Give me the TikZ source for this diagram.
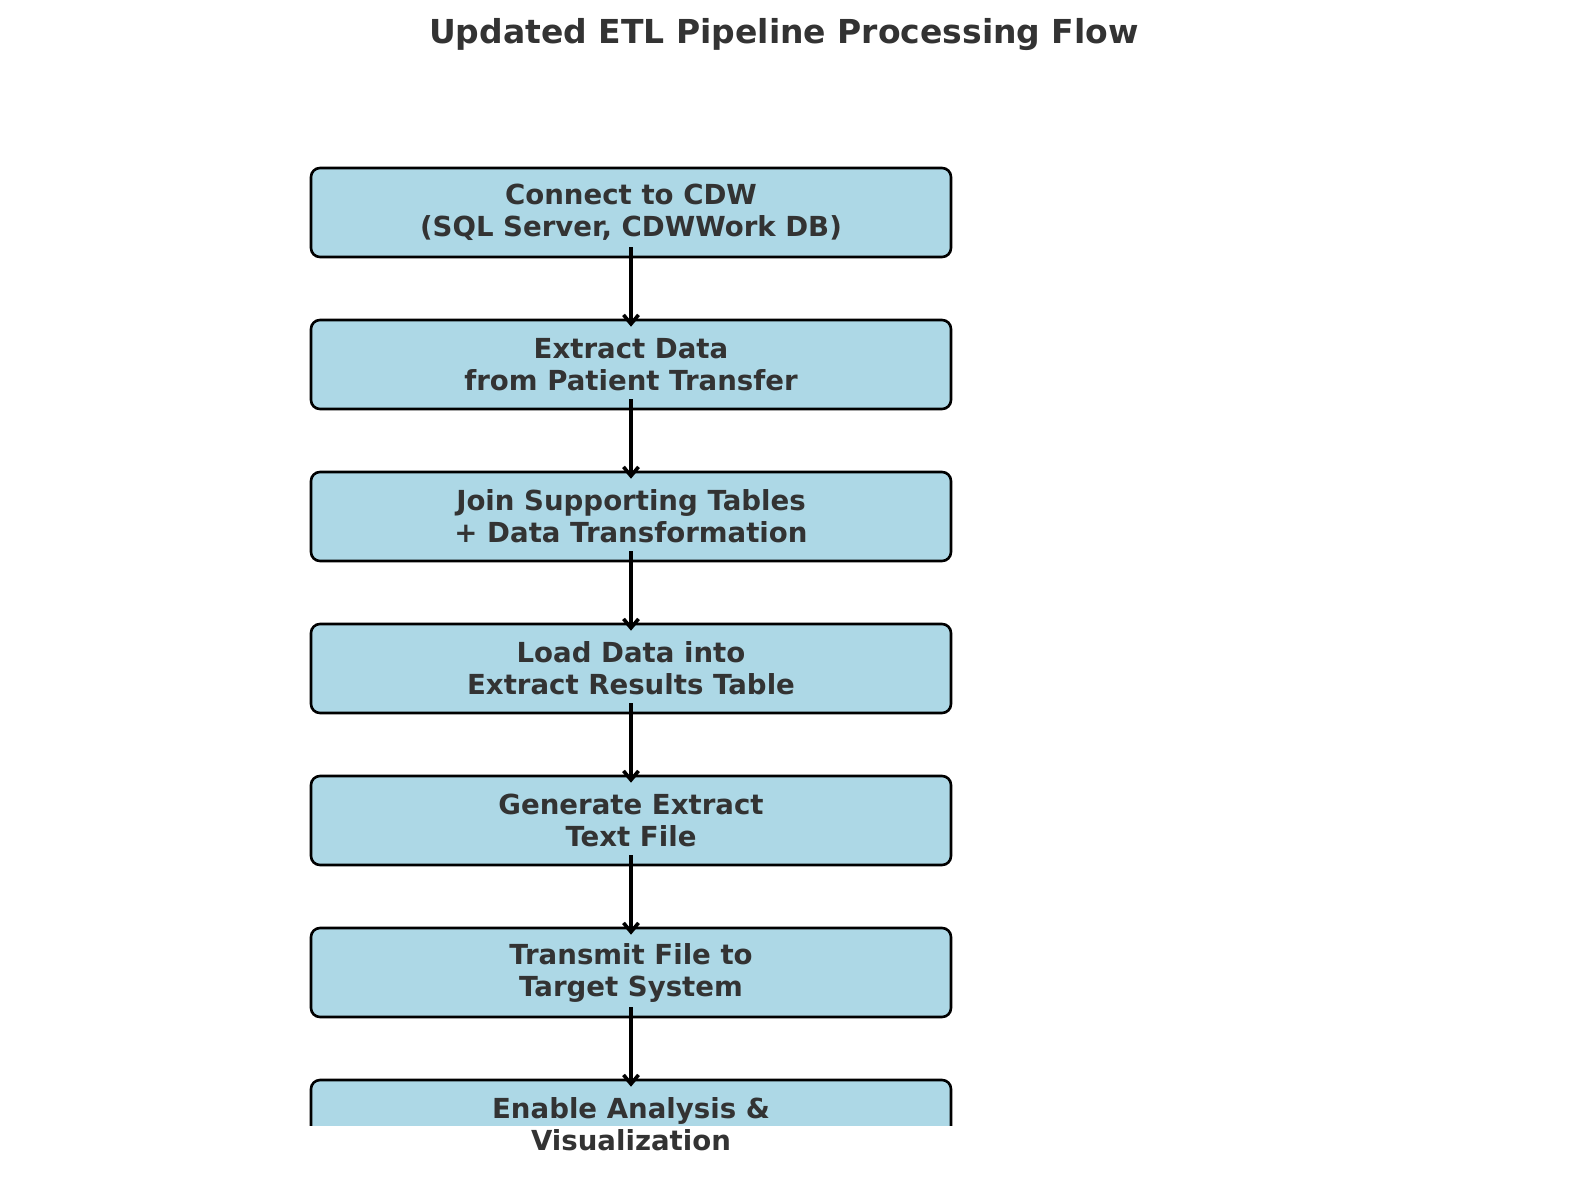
\documentclass[tikz,border=0pt]{standalone}
\usepackage{fontspec}
\setmainfont{DejaVu Sans}
\usetikzlibrary{arrows.meta}
\definecolor{boxfill}{HTML}{ADD8E6}
\definecolor{txt}{HTML}{333333}
\begin{document}
\begin{tikzpicture}[x=0.5pt, y=-0.5pt,
  stepbox/.style={draw=black, line width=1.3pt, fill=boxfill, rounded corners=4.5pt,
    minimum width=320pt, minimum height=44.5pt, inner sep=0pt},
  steptext/.style={text=txt, font=\fontsize{13.8}{16}\selectfont\bfseries, align=center, inner sep=0pt},
  flow/.style={-{Straight Barb[length=4.5pt,width=7.5pt,line width=1.8pt]}, line width=1.9pt}]
\useasboundingbox (0,0) rectangle (1589,1190);
\node[steptext, font=\fontsize{16.5}{20}\selectfont\bfseries] (title) at (784,35) {Updated ETL Pipeline Processing Flow};
\node[stepbox, steptext] (s1) at (631,212.5) {Connect to CDW\\(SQL Server, CDWWork DB)};
\node[stepbox, steptext] (s2) at (631,364.5) {Extract Data\\from Patient Transfer};
\node[stepbox, steptext] (s3) at (631,516.5) {Join Supporting Tables\\+ Data Transformation};
\node[stepbox, steptext] (s4) at (631,668.5) {Load Data into\\Extract Results Table};
\node[stepbox, steptext] (s5) at (631,820.5) {Generate Extract\\Text File};
\node[stepbox, steptext] (s6) at (631,972.5) {Transmit File to\\Target System};
\begin{scope}
\clip (0,0) rectangle (1589,1125);
\node[stepbox] (s7box) at (631,1124.5) {};
\end{scope}
\node[steptext] (s7) at (s7box.center) {Enable Analysis \&\\Visualization};
% arrows between steps
\draw[flow] ([yshift=-17.25pt]s1.center) -- ([yshift=-4pt]s2.north);
\draw[flow] ([yshift=-17.25pt]s2.center) -- ([yshift=-4pt]s3.north);
\draw[flow] ([yshift=-17.25pt]s3.center) -- ([yshift=-4pt]s4.north);
\draw[flow] ([yshift=-17.25pt]s4.center) -- ([yshift=-4pt]s5.north);
\draw[flow] ([yshift=-17.25pt]s5.center) -- ([yshift=-4pt]s6.north);
\draw[flow] ([yshift=-17.25pt]s6.center) -- ([yshift=-4pt]s7box.north);
\end{tikzpicture}
\end{document}
